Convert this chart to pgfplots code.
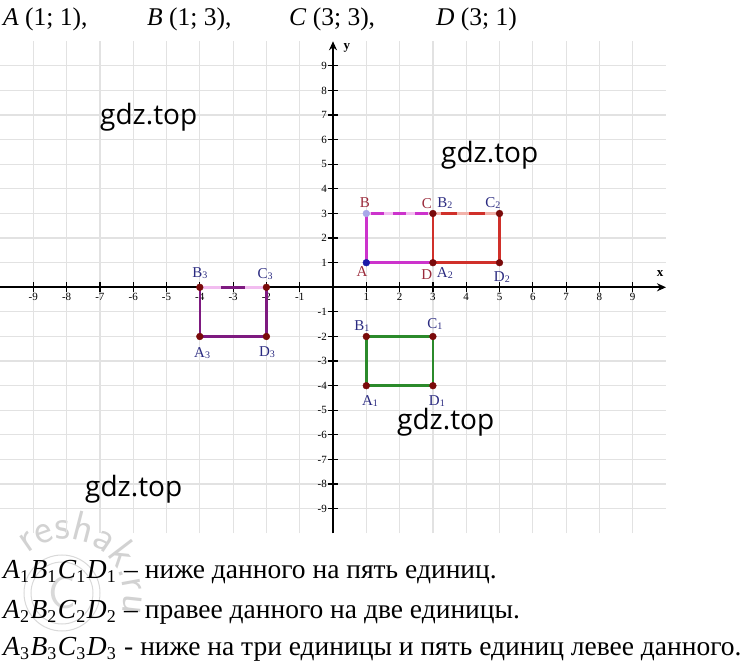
\documentclass[border=0pt]{standalone}
\usepackage{fontspec}
\setmainfont{Liberation Serif}
\newfontfamily\wm{Open Sans}
\usepackage{pgfplots}
\pgfplotsset{compat=1.18}
\usetikzlibrary{arrows.meta,decorations.text}

\definecolor{mag}{HTML}{CC33CC}
\definecolor{pinkl}{HTML}{F2BDF0}
\definecolor{redr}{HTML}{D0302A}
\definecolor{salmon}{HTML}{F2B2AA}
\definecolor{greenr}{HTML}{2B8A2B}
\definecolor{purp}{HTML}{7E1A80}
\definecolor{dotred}{HTML}{7A0A0A}
\definecolor{dotblue}{HTML}{1A1AA8}
\definecolor{dotlav}{HTML}{A8A8E8}
\definecolor{labred}{HTML}{9A2A3A}
\definecolor{labblue}{HTML}{2A2A80}
\definecolor{gridc}{HTML}{E2E2E2}

\newcommand\sub[1]{\raisebox{-1pt}{\fontsize{10}{10}\selectfont #1}}
\newcommand\bsub[1]{\raisebox{-4pt}{\fontsize{18}{18}\selectfont #1}\hspace{1.5pt}}

\begin{document}
\begin{tikzpicture}[x=1pt,y=1pt]
\path[use as bounding box] (0pt,0pt) rectangle (743pt,663pt);

% faint watermark seal
\draw[gray!30, line width=1pt] (62pt,70pt) circle (38pt);
\draw[gray!30, line width=1pt] (62pt,70pt) circle (31pt);
\node[gray!30, font=\sffamily\fontsize{46}{46}\selectfont] at (62pt,70pt) {C};
\path[decorate, decoration={text along path, text align=center,
  text={|\color{gray!35}\sffamily\fontsize{42}{42}\selectfont|reshak.ru}}]
  (66pt,66pt) ++(155:58pt) arc[start angle=155, end angle=-40, radius=58pt];

\begin{axis}[
  at={(333pt,375.7pt)}, anchor=origin,
  scale only axis, width=666pt, height=492pt,
  xmin=-10, xmax=10, ymin=-10, ymax=10,
  axis lines=middle,
  axis line style={line width=1.6pt},
  x axis line style={-{Stealth[length=9pt,width=8pt]}},
  y axis line style={-{Stealth[length=9pt,width=8pt]}},
  xtick={-9,-8,...,-1,1,2,...,9},
  ytick={-9,-8,...,-1,1,2,...,9},
  grid=major,
  grid style={draw=gridc, line width=1.2pt},
  major tick length=10pt,
  every tick/.style={black, line width=1.2pt},
  tick label style={font=\fontsize{11}{11}\selectfont},
  /pgf/number format/assume math mode=true,
  xticklabel style={anchor=north, inner sep=1pt},
  yticklabel style={anchor=east, inner sep=1pt},
  clip=false,
]
% ABCD
\addplot[mag, line width=2.6pt] coordinates {(1,3) (1,1) (3,1)};
\addplot[pinkl, line width=2.6pt] coordinates {(1,3) (3,3)};
\addplot[mag, line width=2.6pt, dash pattern=on 13pt off 9pt, dash phase=-5pt] coordinates {(1,3) (3,3)};
% A2B2C2D2
\addplot[redr, line width=2.6pt] coordinates {(3,3) (3,1) (5,1) (5,3)};
\addplot[salmon, line width=2.6pt] coordinates {(3,3) (5,3)};
\addplot[redr, line width=2.6pt, dash pattern=on 16pt off 12pt, dash phase=-8pt] coordinates {(3,3) (5,3)};
% A1B1C1D1
\addplot[greenr, line width=2.6pt, line join=round] coordinates {(1,-2) (3,-2) (3,-4) (1,-4) (1,-2)};
% A3B3C3D3
\addplot[purp, line width=2.6pt] coordinates {(-4,0) (-4,-2) (-2,-2) (-2,0)};
\addplot[pinkl, line width=2.6pt] coordinates {(-4,0) (-2,0)};
\addplot[purp, line width=2.6pt] coordinates {(-3.35,0) (-2.65,0)};
% points
\addplot[only marks, mark=*, mark size=3.4pt, color=dotred] coordinates {
  (3,3) (3,1) (5,3) (5,1) (1,-2) (1,-4) (3,-2) (3,-4) (-4,0) (-2,0) (-4,-2) (-2,-2)};
\addplot[only marks, mark=*, mark size=3.4pt, color=dotblue] coordinates {(1,1)};
\addplot[only marks, mark=*, mark size=3.4pt, color=dotlav] coordinates {(1,3)};

% axis names
\node[font=\bfseries\fontsize{13}{13}\selectfont] at (axis cs:9.82,0.54) {x};
\node[font=\bfseries\fontsize{13}{13}\selectfont] at (axis cs:0.42,9.73) {y};

% point labels
\begin{scope}[every node/.style={font=\fontsize{15}{15}\selectfont, inner sep=0pt}]
\node[labred] at (axis cs:0.87,0.62) {A};
\node[labred] at (axis cs:0.96,3.43) {B};
\node[labred] at (axis cs:2.82,3.39) {C};
\node[labred] at (axis cs:2.82,0.5) {D};
\node[labblue] at (axis cs:3.36,3.43) {B\sub{2}};
\node[labblue] at (axis cs:4.8,3.43) {C\sub{2}};
\node[labblue] at (axis cs:3.36,0.58) {A\sub{2}};
\node[labblue] at (axis cs:5.07,0.42) {D\sub{2}};
\node[labblue] at (axis cs:0.87,-1.57) {B\sub{1}};
\node[labblue] at (axis cs:3.06,-1.49) {C\sub{1}};
\node[labblue] at (axis cs:1.11,-4.62) {A\sub{1}};
\node[labblue] at (axis cs:3.12,-4.62) {D\sub{1}};
\node[labblue] at (axis cs:-4.0,0.58) {B\sub{3}};
\node[labblue] at (axis cs:-2.04,0.54) {C\sub{3}};
\node[labblue] at (axis cs:-3.93,-2.67) {A\sub{3}};
\node[labblue] at (axis cs:-1.98,-2.63) {D\sub{3}};
\end{scope}
\end{axis}

% site marks
\begin{scope}[every node/.style={font=\wm\fontsize{28}{28}\selectfont, anchor=base west, inner sep=0pt}]
\node at (100pt,538pt) {gdz.top};
\node at (441pt,500pt) {gdz.top};
\node at (397pt,233pt) {gdz.top};
\node at (85pt,166pt) {gdz.top};
\end{scope}

% top line
\begin{scope}[every node/.style={font=\fontsize{25.5}{25.5}\selectfont, anchor=base west, inner sep=0pt}]
\node at (3pt,637pt) {\textit{A} (1; 1),};
\node at (147pt,637pt) {\textit{B} (1; 3),};
\node at (289pt,637pt) {\textit{C} (3; 3),};
\node at (436pt,637pt) {\textit{D} (3; 1)};
\end{scope}

% bottom lines
\begin{scope}[every node/.style={font=\fontsize{27.5}{27.5}\selectfont, anchor=base west, inner sep=0pt}]
\node at (3pt,84pt) {\textit{A}\bsub{1}\textit{B}\bsub{1}\textit{C}\bsub{1}\textit{D}\bsub{1} -- ниже данного на пять единиц.};
\node at (3pt,45pt) {\textit{A}\bsub{2}\textit{B}\bsub{2}\textit{C}\bsub{2}\textit{D}\bsub{2} -- правее данного на две единицы.};
\node at (3pt,8pt) {\textit{A}\bsub{3}\textit{B}\bsub{3}\textit{C}\bsub{3}\textit{D}\bsub{3} - ниже на три единицы и пять единиц левее данного.};
\end{scope}
\end{tikzpicture}
\end{document}
